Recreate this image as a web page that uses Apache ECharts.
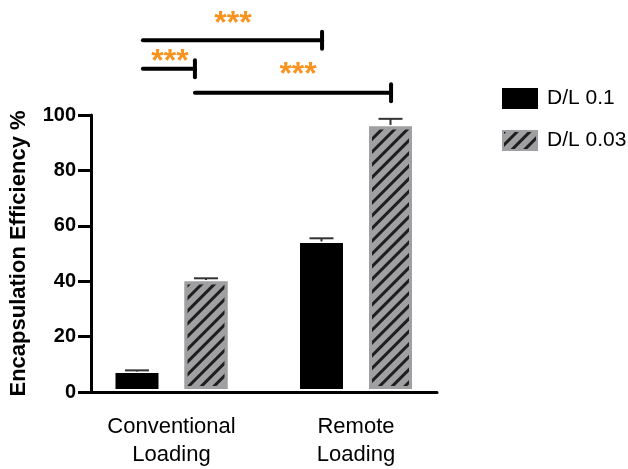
<!DOCTYPE html>
<html>
<head>
<meta charset="utf-8">
<script src="https://cdn.jsdelivr.net/npm/echarts@6/dist/echarts.min.js"></script>
<style>html,body{margin:0;padding:0;background:#fff;}#c{width:628px;height:469px;}</style>
</head>
<body>
<div id="c"></div>
<script>
// ---- data ----
const categories = ['Conventional\nLoading', 'Remote\nLoading'];
const seriesNames = ['D/L 0.1', 'D/L 0.03'];
const dl01 = [5.8, 53.3];
const dl003 = [39.2, 95.8];
const dl01Err = [1.0, 1.7];
const dl003Err = [1.2, 2.8];
const yTicks = [0, 20, 40, 60, 80, 100];
const yTitle = 'Encapsulation Efficiency %';
const starText = '***';
// brackets: [x start, x end (category units), y value, star x, star y]
const brackets = [
  [-0.155, 0.816, 127.3, 0.333, 135.0],
  [-0.155, 0.127, 116.9, -0.008, 121.0],
  [0.127, 1.190, 108.1, 0.686, 116.3]
];

// ---- style ----
const FONT = "'Liberation Sans', Arial, Helvetica, sans-serif";
const BAR_W = 43;
const BORDER = 3;
const HALF_OFF = 34.5;
const GREY = '#a0a0a3';
const ORANGE = '#f7931e';
const STAR_SIZE = 32;
const STAR_DY = 5;

const errData = [];
for (let i = 0; i < categories.length; i++) {
  errData.push([i, dl01[i], dl01Err[i], 0]);
  errData.push([i, dl003[i], dl003Err[i], 1]);
}

const chart = echarts.init(document.getElementById('c'), null, {renderer: 'canvas'});
chart.setOption({
  animation: false,
  backgroundColor: '#fff',
  legend: {
    left: 497, top: 83, orient: 'vertical',
    itemWidth: 34, itemHeight: 19, itemGap: 21,
    icon: 'rect',
    data: seriesNames,
    textStyle: {fontFamily: FONT, fontSize: 21, color: '#000', padding: [0, 0, 0, 5]}
  },
  grid: [
    {left: 79.25, width: 369, top: 115, height: 277},
    {left: 91, width: 346, top: 115, height: 277}
  ],
  xAxis: [
    {
      type: 'category', gridIndex: 0, data: categories,
      axisLine: {show: false}, axisTick: {show: false},
      axisLabel: {fontFamily: FONT, fontSize: 22, color: '#000', lineHeight: 28, margin: 24}
    },
    {
      type: 'value', gridIndex: 1, min: 0, max: 1,
      axisLine: {show: true, lineStyle: {color: '#000', width: 3}},
      axisTick: {show: false}, axisLabel: {show: false}, splitLine: {show: false}
    }
  ],
  yAxis: [
    {type: 'value', gridIndex: 0, min: 0, max: 100, show: false},
    {
      type: 'value', gridIndex: 1, min: yTicks[0], max: yTicks[yTicks.length - 1],
      interval: yTicks[1] - yTicks[0],
      name: yTitle, nameLocation: 'middle', nameGap: 61,
      nameTextStyle: {fontFamily: FONT, fontSize: 22, fontWeight: 'bold', color: '#000'},
      axisLine: {show: true, lineStyle: {color: '#000', width: 3}},
      axisTick: {show: true, length: 13, lineStyle: {color: '#000', width: 3}},
      axisLabel: {fontFamily: FONT, fontSize: 20, fontWeight: 'bold', color: '#000', margin: 15},
      splitLine: {show: false}
    }
  ],
  series: [
    {
      name: seriesNames[0], type: 'bar', xAxisIndex: 0, yAxisIndex: 0,
      data: dl01, barWidth: BAR_W, barGap: '60.5%',
      itemStyle: {color: '#000', borderColor: '#000', borderWidth: BORDER}
    },
    {
      name: seriesNames[1], type: 'bar', xAxisIndex: 0, yAxisIndex: 0,
      data: dl003, barWidth: BAR_W, barGap: '60.5%',
      itemStyle: {
        color: GREY, borderColor: GREY, borderWidth: BORDER,
        decal: {symbol: 'rect', symbolSize: 1, color: '#1e1e1e', dashArrayX: [1, 0], dashArrayY: [3, 5.5], rotation: -Math.PI / 4}
      }
    },
    {
      type: 'custom', xAxisIndex: 0, yAxisIndex: 0, data: errData, silent: true, z: 5,
      renderItem: function (params, api) {
        const cat = api.value(0), v = api.value(1), e = api.value(2), s = api.value(3);
        const base = api.coord([cat, v]);
        const top = api.coord([cat, v + e]);
        const x = base[0] + (s === 0 ? -HALF_OFF : HALF_OFF);
        const st = {stroke: '#333', lineWidth: 2};
        return {type: 'group', children: [
          {type: 'line', shape: {x1: x, y1: base[1] - 1.5, x2: x, y2: top[1]}, style: st},
          {type: 'line', shape: {x1: x - 12, y1: top[1], x2: x + 12, y2: top[1]}, style: st}
        ]};
      }
    },
    {
      type: 'custom', xAxisIndex: 0, yAxisIndex: 0, data: brackets, silent: true, z: 6,
      renderItem: function (params, api) {
        const band = api.size([1, 0])[0];
        const c0 = api.coord([0, api.value(2)]);
        const x1 = c0[0] + api.value(0) * band;
        const x2 = c0[0] + api.value(1) * band;
        const y = c0[1];
        const sp = api.coord([0, api.value(4)]);
        const sx = sp[0] + api.value(3) * band;
        const st = {stroke: '#000', lineWidth: 4, lineCap: 'round'};
        return {type: 'group', children: [
          {type: 'line', shape: {x1: x1, y1: y, x2: x2, y2: y}, style: st},
          {type: 'line', shape: {x1: x2, y1: y - 8.5, x2: x2, y2: y + 8.5}, style: st},
          {type: 'text', x: sx, y: sp[1] + STAR_DY, style: {text: starText, fill: ORANGE, font: 'bold ' + STAR_SIZE + 'px ' + FONT, align: 'center', verticalAlign: 'middle'}}
        ]};
      }
    }
  ]
});
</script>
</body>
</html>
